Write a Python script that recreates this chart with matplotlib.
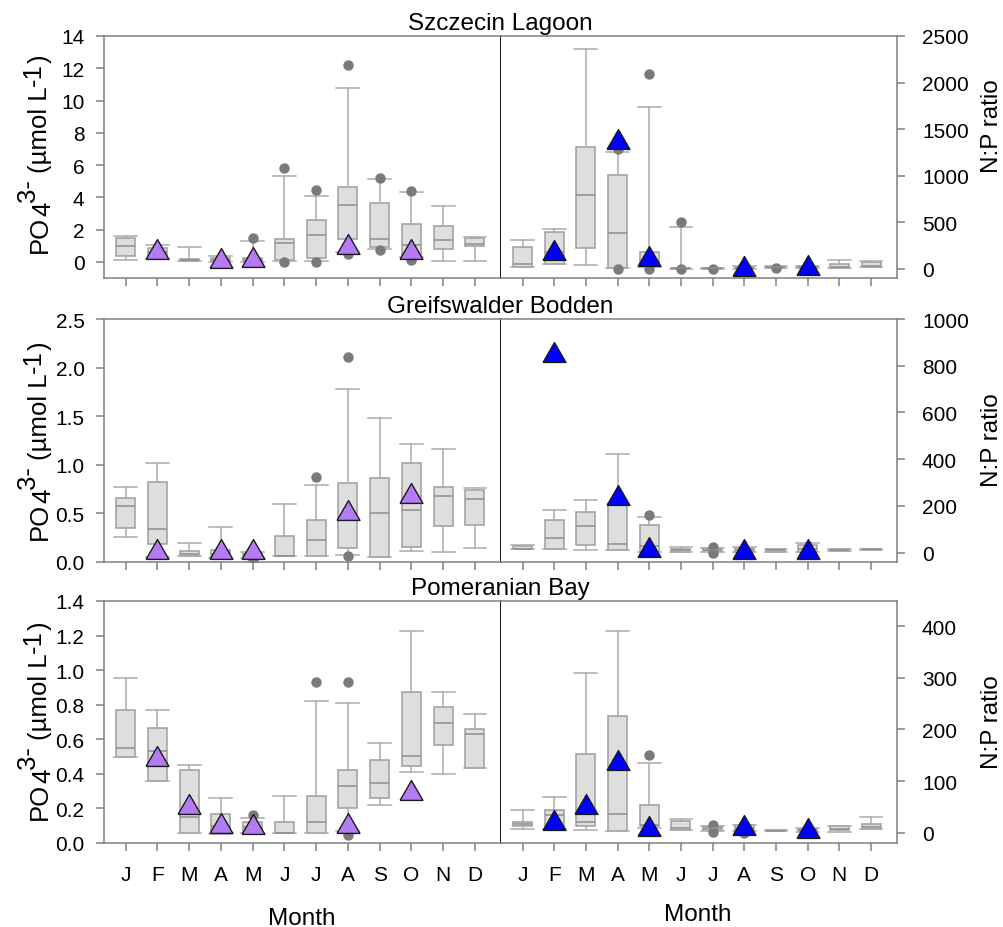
import numpy as np
import matplotlib
matplotlib.use("Agg")
import matplotlib.pyplot as plt
from matplotlib.ticker import FormatStrFormatter

plt.rcParams["font.family"] = ["Liberation Sans", "DejaVu Sans"]

months = ["J", "F", "M", "A", "M", "J", "J", "A", "S", "O", "N", "D"]
nan = np.nan

# Monthly box statistics: [lower whisker, Q1, median, Q3, upper whisker]
szczecin_po4 = [
    [0.12, 0.37, 1.00, 1.48, 1.60], [0.20, 0.30, 0.60, 0.85, 1.03],
    [0.05, 0.06, 0.10, 0.15, 0.93], [0.02, 0.05, 0.12, 0.22, 0.37],
    [0.02, 0.05, 0.12, 0.25, 1.30], [0.04, 0.10, 1.19, 1.40, 5.35],
    [0.04, 0.25, 1.69, 2.60, 4.06], [0.62, 1.44, 3.50, 4.67, 10.75],
    [0.80, 0.93, 1.40, 3.66, 5.15], [0.30, 0.35, 1.03, 2.33, 4.36],
    [0.04, 0.82, 1.38, 2.20, 3.46], [0.08, 0.97, 1.10, 1.48, 1.52],
]
szczecin_po4_out = [[], [], [], [], [1.5], [5.8, 0.0], [4.47, 0.0],
                    [12.2, 0.51], [5.2, 0.75], [4.4, 0.12], [], []]
szczecin_po4_year = [nan, 0.80, nan, 0.25, 0.29, nan, nan, 1.13, nan, 0.78, nan, nan]

szczecin_np = [
    [25, 25, 54, 240, 311], [54, 54, 180, 394, 430],
    [46, 222, 795, 1314, 2356], [7, 7, 387, 1003, 1260],
    [20, 36, 80, 186, 1737], [2, 4, 6, 10, 455],
    [2, 4, 6, 10, 15], [2, 5, 10, 20, 30],
    [10, 12, 18, 24, 30], [5, 10, 20, 30, 36],
    [7, 7, 20, 50, 100], [18, 18, 36, 72, 90],
]
szczecin_np_out = [[], [], [], [1290, 0], [2091, 0], [508, 0], [0],
                   [], [5], [], [], []]
szczecin_np_year = [nan, 206, nan, 1390, 134, nan, nan, 27, nan, 39, nan, nan]

greifswald_po4 = [
    [0.26, 0.35, 0.58, 0.66, 0.77], [0.05, 0.19, 0.34, 0.82, 1.02],
    [0.06, 0.06, 0.08, 0.11, 0.20], [0.04, 0.05, 0.08, 0.12, 0.36],
    [0.04, 0.05, 0.07, 0.09, 0.10], [0.06, 0.06, 0.06, 0.27, 0.60],
    [0.06, 0.06, 0.23, 0.43, 0.79], [0.07, 0.14, 0.45, 0.81, 1.78],
    [0.05, 0.055, 0.50, 0.86, 1.48], [0.11, 0.15, 0.54, 1.02, 1.21],
    [0.10, 0.37, 0.68, 0.77, 1.16], [0.14, 0.38, 0.65, 0.74, 0.76],
]
greifswald_po4_out = [[], [], [], [], [0.02], [], [0.87], [2.11, 0.06],
                      [], [], [], []]
greifswald_po4_year = [nan, 0.13, nan, 0.13, 0.13, nan, nan, 0.54, nan, 0.71, nan, nan]

greifswald_np = [
    [14, 14, 17, 28, 34], [14, 14, 64, 138, 182],
    [11, 34, 114, 175, 226], [11, 11, 38, 214, 423],
    [2, 4, 30, 117, 151], [4, 4, 10, 14, 25],
    [4, 6, 12, 18, 22], [3, 4, 10, 18, 25],
    [4, 4, 10, 16, 16], [4, 4, 15, 31, 40],
    [6, 6, 10, 14, 14], [10, 10, 14, 17, 17],
]
greifswald_np_out = [[], [], [], [], [162], [], [24, 0], [], [], [], [], []]
greifswald_np_year = [nan, 857, nan, 247, 23, nan, nan, 16, nan, 16, nan, nan]

pomeranian_po4 = [
    [0.50, 0.50, 0.55, 0.77, 0.955], [0.36, 0.36, 0.53, 0.665, 0.77],
    [0.058, 0.058, 0.15, 0.42, 0.45], [0.05, 0.05, 0.10, 0.17, 0.26],
    [0.06, 0.06, 0.09, 0.12, 0.143], [0.06, 0.06, 0.06, 0.12, 0.27],
    [0.06, 0.06, 0.12, 0.27, 0.82], [0.07, 0.20, 0.33, 0.425, 0.81],
    [0.217, 0.263, 0.346, 0.483, 0.58], [0.41, 0.445, 0.506, 0.874, 1.225],
    [0.40, 0.568, 0.692, 0.789, 0.874], [0.433, 0.433, 0.632, 0.66, 0.744],
]
pomeranian_po4_out = [[], [], [], [], [0.16], [], [0.93], [0.93, 0.046],
                      [], [], [], []]
pomeranian_po4_year = [nan, 0.505, 0.225, 0.113, 0.108, nan, nan, 0.115, nan, 0.306, nan, nan]

pomeranian_np = [
    [7.7, 13, 17.4, 20.7, 43], [7.7, 7.7, 35, 44.5, 69],
    [4.5, 13, 20.7, 153, 309], [3.3, 3.3, 37, 227, 390],
    [10, 13, 15, 53, 135], [4.5, 4.5, 9, 22, 26],
    [3, 5, 9, 12, 13], [3, 5, 10, 14, 15],
    [3, 3.5, 4, 4.5, 5], [2, 3, 5, 7, 10],
    [1.4, 4.5, 7.7, 12, 13], [6.4, 6.4, 11, 17, 29.6],
]
pomeranian_np_out = [[], [], [], [], [151.5], [], [14, 1.4], [0], [], [], [], []]
pomeranian_np_year = [nan, 25.5, 55, 140, 13, nan, nan, 15.5, nan, 9, nan, nan]

W, H = 1004, 928
fig = plt.figure(figsize=(W / 100, H / 100), dpi=100)

GRID = "#808080"
BOX_FACE = "#dedede"
BOX_EDGE = "#9e9e9e"
WHISK = "#ababab"
DOT = "#7a7a7a"
PURPLE = "#b57bf5"
BLUE = "#0000ff"

# equilateral triangle centred on its bounding box
TRI = [(-1, -0.866), (1, -0.866), (0, 0.866), (-1, -0.866)]


def frac_rect(x0, x1, top, bottom):
    return [x0 / W, 1 - bottom / H, (x1 - x0) / W, (bottom - top) / H]


def to_stats(rows, outs):
    return [dict(whislo=r[0], q1=r[1], med=r[2], q3=r[3], whishi=r[4],
                 fliers=np.array(o, dtype=float)) for r, o in zip(rows, outs)]


def draw_panel(ax, rows, outs, year, tri_color):
    pos = np.arange(1, 13)
    ax.bxp(to_stats(rows, outs), positions=pos, widths=0.6, capwidths=0.72,
           patch_artist=True, manage_ticks=False,
           boxprops=dict(facecolor=BOX_FACE, edgecolor=BOX_EDGE, linewidth=1.1),
           whiskerprops=dict(color=WHISK, linewidth=1.1),
           capprops=dict(color=WHISK, linewidth=1.1),
           medianprops=dict(color="#8e8e8e", linewidth=1.1),
           flierprops=dict(marker="o", markerfacecolor=DOT, markeredgecolor=DOT,
                           markersize=6.5))
    ax.plot(pos, year, linestyle="none", marker=TRI, markersize=16.5,
            markerfacecolor=tri_color, markeredgecolor="#1a1a1a",
            markeredgewidth=1.0, zorder=5)
    ax.set_xlim(0.32, 12.82)
    ax.set_xticks(pos)
    for s in ("top", "bottom", "left", "right"):
        ax.spines[s].set_color(GRID)
        ax.spines[s].set_linewidth(1.1)
    ax.tick_params(direction="out", length=6, width=1.1, color=GRID,
                   labelsize=15)
    ax.tick_params(axis="x", pad=10)


panels = [
    ("Szczecin Lagoon", 37, 279, 30,
     szczecin_po4, szczecin_po4_out, szczecin_po4_year, (-1, 14), np.arange(0, 15, 2), "%d",
     szczecin_np, szczecin_np_out, szczecin_np_year, (-97, 2500), np.arange(0, 2501, 500),
     154, 126),
    ("Greifswalder Bodden", 320, 563, 313,
     greifswald_po4, greifswald_po4_out, greifswald_po4_year, (0, 2.5), np.arange(0, 2.51, 0.5), "%.1f",
     greifswald_np, greifswald_np_out, greifswald_np_year, (-40, 1000), np.arange(0, 1001, 200),
     441, 440),
    ("Pomeranian Bay", 602, 844, 595,
     pomeranian_po4, pomeranian_po4_out, pomeranian_po4_year, (0, 1.4), np.arange(0, 1.41, 0.2), "%.1f",
     pomeranian_np, pomeranian_np_out, pomeranian_np_year, (-20, 449), np.arange(0, 401, 100),
     721, 722),
]

renderer = fig.canvas.get_renderer()


def text_width(s, size):
    t = fig.text(0, 0, s, fontsize=size)
    w = t.get_window_extent(renderer).width
    t.remove()
    return w


def vertical_po4_label(x_base, y_center, size=18.5):
    # (text, raise in px, gap after in px)
    parts = [("PO", 0, 0), ("4", -3, 0), ("3-", 12, 6), ("(µmol L", 0, 0),
             ("-1", 6, 0), (")", 0, 0)]
    widths = [text_width(p[0], size) for p in parts]
    total = sum(widths) + sum(p[2] for p in parts)
    y = (H - y_center) - total / 2
    for (s, rise, gap), w in zip(parts, widths):
        fig.text((x_base - rise) / W, y / H, s, fontsize=size, rotation=90,
                 rotation_mode="anchor", ha="left", va="baseline")
        y += w + gap


for (title, top, bottom, tbase, po4, po4_out, po4_year, ylL, ytL, fmtL,
     npr, np_out, np_year, ylR, ytR, lab_y, np_lab_y) in panels:
    axL = fig.add_axes(frac_rect(104, 501, top, bottom))
    axR = fig.add_axes(frac_rect(501, 897, top, bottom))

    draw_panel(axL, po4, po4_out, po4_year, PURPLE)
    axL.set_ylim(*ylL)
    axL.set_yticks(ytL)
    axL.yaxis.set_major_formatter(FormatStrFormatter(fmtL))
    axL.tick_params(axis="y", pad=8)
    axL.spines["right"].set_color("black")
    axL.spines["right"].set_linewidth(1.3)

    draw_panel(axR, npr, np_out, np_year, BLUE)
    axR.set_ylim(*ylR)
    axR.set_yticks(ytR)
    axR.yaxis.tick_right()
    axR.tick_params(axis="y", pad=12)
    axR.spines["left"].set_visible(False)

    if bottom < 800:
        axL.set_xticklabels([])
        axR.set_xticklabels([])
    else:
        axL.set_xticklabels(months)
        axR.set_xticklabels(months)

    fig.text(500 / W, 1 - tbase / H, title, fontsize=17.5, ha="center",
             va="baseline")
    vertical_po4_label(47, lab_y)
    fig.text(992 / W, 1 - np_lab_y / H, "N:P ratio", fontsize=17.5,
             rotation=90, ha="center", va="center")

fig.text(302 / W, 1 - 925 / H, "Month", fontsize=17.5, ha="center", va="baseline")
fig.text(698 / W, 1 - 921.5 / H, "Month", fontsize=17.5, ha="center", va="baseline")

fig.savefig("out.png", dpi=100)
